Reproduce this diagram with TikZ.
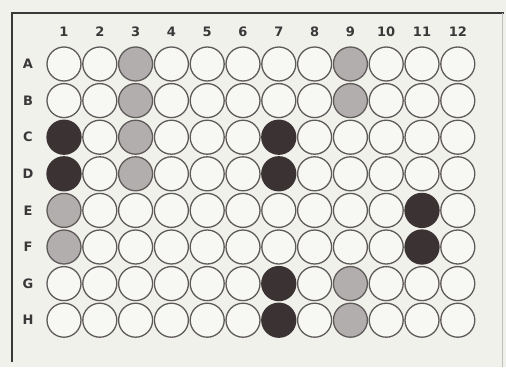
\documentclass[tikz,border=0pt]{standalone}
\usepackage{fontspec}
\setsansfont{DejaVu Sans}
\definecolor{paper}{HTML}{F1F1EC}
\definecolor{rimcol}{HTML}{5F5A5A}
\definecolor{darkfill}{HTML}{3B3234}
\definecolor{palefill}{HTML}{B3AEAE}
\definecolor{labelcol}{HTML}{3A3838}
\begin{document}
\begin{tikzpicture}[x=1pt, y=-1pt,
    well/.style={circle, draw=rimcol, line width=1.3pt, fill=paper!60!white,
      minimum size=34pt, inner sep=0pt},
    dark/.style={fill=darkfill, draw=darkfill},
    pale/.style={fill=palefill},
    hdr/.style={font=\sffamily\bfseries\fontsize{13}{13}\selectfont, text=labelcol},
    % positive and weak wells
    w C1/.style=dark, w D1/.style=dark, w C7/.style=dark, w D7/.style=dark,
    w G7/.style=dark, w H7/.style=dark, w E11/.style=dark, w F11/.style=dark,
    w A3/.style=pale, w B3/.style=pale, w C3/.style=pale, w D3/.style=pale,
    w A9/.style=pale, w B9/.style=pale, w E1/.style=pale, w F1/.style=pale,
    w G9/.style=pale, w H9/.style=pale]
  % Background
  \fill[paper] (0,0) rectangle (506,367);
  \useasboundingbox (0,0) rectangle (506,367);

  % Frame
  \draw[labelcol, line width=1.6pt] (12,362) -- (12,13) -- (504,13);
  \draw[gray!50, line width=1pt] (502,13) -- (502,367);

  % Column labels
  \foreach \c in {1,...,12}
    \node[hdr] (col\c) at ({64+35.8*(\c-1)}, 32) {\c};

  % Row labels and wells
  \foreach \r [count=\i] in {A,B,C,D,E,F,G,H} {
    \node[hdr] (row\r) at (28, {64+36.6*(\i-1)}) {\r};
    \foreach \c in {1,...,12}
      \node[well, w \r\c/.try] (\r\c) at ({64+35.8*(\c-1)}, {64+36.6*(\i-1)}) {};
  }
\end{tikzpicture}
\end{document}
